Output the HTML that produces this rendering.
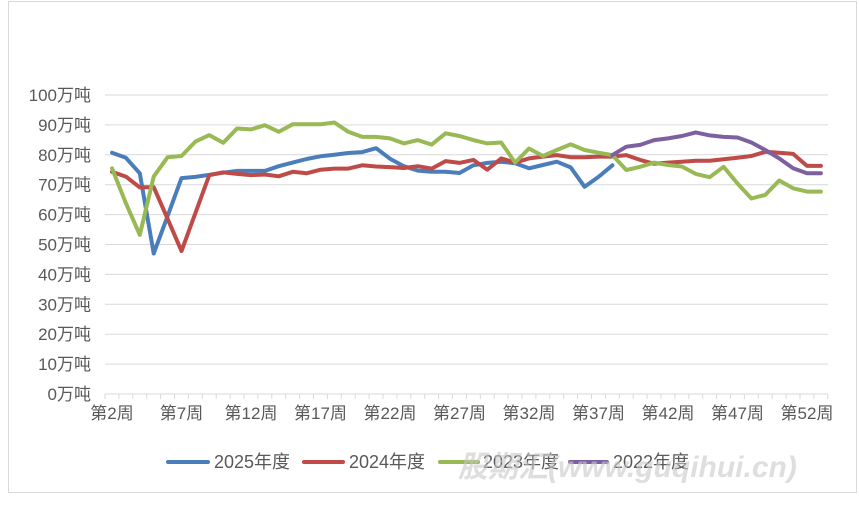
<!DOCTYPE html>
<html><head><meta charset="utf-8"><style>
body{margin:0;background:#fff;}
svg text{font-family:"Liberation Sans","Noto Sans CJK SC",sans-serif;}
</style></head><body>
<svg id="s" width="859" height="501" xmlns="http://www.w3.org/2000/svg">
<rect x="8.5" y="1.5" width="848" height="491" fill="#fff" stroke="#d9d9d9" stroke-width="1"/>
<g id="grid" stroke="#d9d9d9" stroke-width="1"></g>
<g id="lbl" fill="#595959" font-size="17"></g>
<g id="lines" fill="none" stroke-width="4" stroke-linejoin="round" stroke-linecap="round"></g>
<g font-size="18" fill="#595959">
<line x1="168" y1="462" x2="208" y2="462" stroke="#4a7ebb" stroke-width="4" stroke-linecap="round"/>
<text x="214" y="468">2025年度</text>
<line x1="304" y1="462" x2="343" y2="462" stroke="#be4b48" stroke-width="4" stroke-linecap="round"/>
<text x="349" y="468">2024年度</text>
<line x1="440" y1="462" x2="478" y2="462" stroke="#98b954" stroke-width="4" stroke-linecap="round"/>
<text x="483" y="468">2023年度</text>
<line x1="570" y1="462" x2="607" y2="462" stroke="#7d60a0" stroke-width="4" stroke-linecap="round"/>
<text x="613" y="468">2022年度</text>
</g>
<text x="458" y="477" font-size="30" font-weight="bold" font-style="italic" fill="#c8c8c8" fill-opacity="0.6">股期汇(www.guqihui.cn)</text>
</svg>
<script>
var NS="http://www.w3.org/2000/svg";
function el(p,t,a,txt){var e=document.createElementNS(NS,t);for(var k in a)e.setAttribute(k,a[k]);if(txt)e.textContent=txt;p.appendChild(e);return e;}
var g=document.getElementById('grid'),l=document.getElementById('lbl'),L=document.getElementById('lines');
function Y(v){return 394-v*2.99;}
function X(n){return 112+(n-2)*13.9;}
for(var v=0;v<=100;v+=10){var y=Y(v);if(v>0)el(g,'line',{x1:105,x2:828,y1:y,y2:y});
el(l,'text',{x:91,y:y+6,'text-anchor':'end'},v+'万吨');}
el(g,'line',{x1:105,x2:828,y1:394,y2:394});
for(var k=0;k<=52;k++){var x=105+k*13.9;el(g,'line',{x1:x,x2:x,y1:394,y2:399});}
for(var n=2;n<=52;n+=5)el(l,'text',{x:X(n),y:419,'text-anchor':'middle'},'第'+n+'周');
var d={
'#4a7ebb':[2,[80.7,79,73.8,47,59.5,72.2,72.6,73.3,74,74.6,74.6,74.6,76.2,77.4,78.6,79.5,80,80.6,80.9,82.2,78.7,76.2,74.7,74.3,74.3,73.9,76.5,77.3,77.7,77.2,75.5,76.6,77.7,75.8,69.3,72.6,76.5]],
'#be4b48':[2,[74.3,72.7,69.1,69.2,58.6,47.8,60.5,73.2,74.1,73.6,73.2,73.4,72.8,74.3,73.8,75,75.4,75.4,76.5,76.1,75.9,75.6,76.2,75.4,77.9,77.3,78.3,75,78.8,77.4,78.8,79.4,79.9,79.2,79.2,79.4,79.4,79.9,78.3,77,77.4,77.7,78,78,78.5,79,79.6,81,80.7,80.3,76.3,76.3]],
'#98b954':[2,[75.5,63.8,53.2,72.7,79.2,79.6,84.4,86.6,84,88.8,88.5,89.9,87.7,90.2,90.2,90.2,90.8,87.7,86,86,85.5,83.8,84.9,83.4,87.2,86.3,84.9,83.8,84.1,77.4,82.1,79.6,81.6,83.5,81.6,80.7,79.9,74.9,76,77.4,76.6,76.1,73.6,72.5,76,70.4,65.4,66.6,71.4,68.8,67.7,67.7]],
'#7d60a0':[38,[79.9,82.7,83.3,84.9,85.5,86.3,87.5,86.5,86,85.8,84.1,81.6,78.8,75.5,73.8,73.8]]};
for(var c in d){var s=d[c][0],a=d[c][1],p=[];for(var i=0;i<a.length;i++)p.push(X(s+i).toFixed(1)+','+Y(a[i]).toFixed(1));
el(L,'polyline',{points:p.join(' '),stroke:c});}
</script>
</body></html>
